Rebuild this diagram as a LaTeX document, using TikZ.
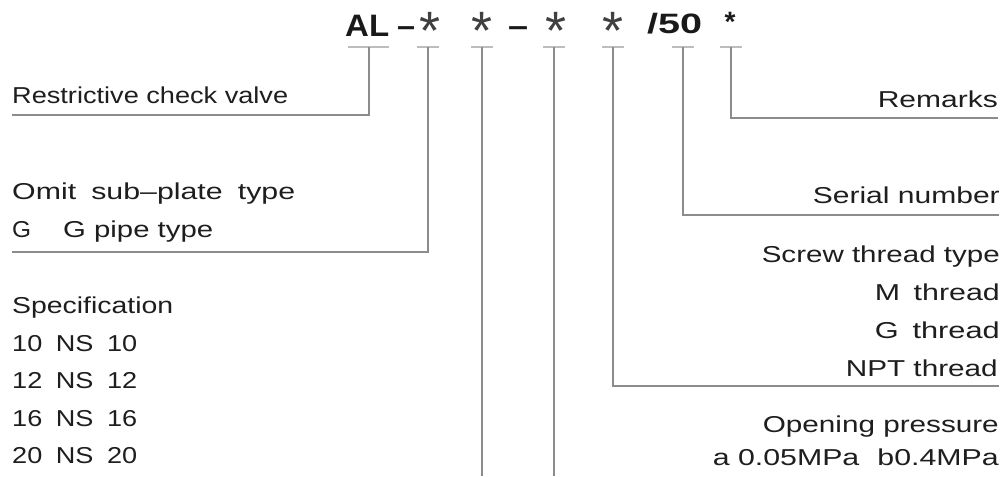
\documentclass[tikz,border=0pt]{standalone}
\usepackage{fontspec}
\setmainfont{Liberation Sans}
\usepackage{graphicx}
\definecolor{txt}{HTML}{1E1E1E}
\definecolor{ln}{HTML}{8C8C8C}
\definecolor{tk}{HTML}{BDBDBD}
\newcommand{\fw}[2]{\resizebox{#1}{\height}{#2}}
\begin{document}
\begin{tikzpicture}[x=1pt,y=-1pt,
  lbl/.style={inner sep=0pt, text=txt, font=\fontsize{23}{26}\selectfont},
  lw/.style={lbl, anchor=base west},
  le/.style={lbl, anchor=base east},
  conn/.style={draw=ln, line width=1.2pt},
  tickmark/.style={draw=tk, line width=1.5pt},
  ttl/.style={inner sep=0pt, text=black!90, font=\fontsize{31}{34}\selectfont\bfseries, anchor=base west},
  star/.style={inner sep=0pt, text=black!75, font=\fontsize{54}{58}\selectfont, anchor=base},
  bstar/.style={inner sep=0pt, text=black!90, font=\fontsize{28}{30}\selectfont\bfseries, anchor=base}]
\useasboundingbox[fill=white] (0,0) rectangle (1008,476);

% title code
\node[ttl] (al) at (345,37) {\fw{44pt}{AL}};
\node[ttl] (d1) at (397,37) {\fw{18pt}{–}};
\node[star] (s1) at (430,50) {*};
\node[star] (s2) at (482,50) {*};
\node[ttl] (d2) at (508,37) {\fw{20pt}{–}};
\node[star] (s3) at (556,50) {*};
\node[star] (s4) at (613,50) {*};
\node[ttl, font=\fontsize{28}{30}\selectfont\bfseries] (n50) at (647,34) {\fw{55pt}{/50}};
\node[bstar] (s5) at (730,32) {*};

% tick coordinates
\coordinate (kAL) at (369,47);
\coordinate (k1) at (428,47);
\coordinate (k2) at (482,47);
\coordinate (k3) at (554,47);
\coordinate (k4) at (613,47);
\coordinate (k5) at (683,47);
\coordinate (k6) at (731,47);
\draw[tickmark] ([xshift=-21pt]kAL) -- ([xshift=20pt]kAL);
\foreach \k in {k1,k2,k3,k4,k5,k6}
  \draw[tickmark] ([xshift=-11pt]\k) -- ([xshift=11pt]\k);

% left labels
\node[lw] (rcv) at (12,103) {\fw{276pt}{Restrictive check valve}};
\node[lw] (omit) at (12,199) {\fw{283pt}{Omit\hspace{0.5em}sub–plate\hspace{0.5em}type}};
\node[lw] (gpipe) at (12,237) {\makebox[51pt][l]{\fw{19pt}{G}}\fw{150pt}{G pipe type}};
\node[lw] (spec) at (12,313) {\fw{161pt}{Specification}};
\node[lw] (n10) at (12,351) {\fw{125pt}{10\hspace{0.5em}NS\hspace{0.5em}10}};
\node[lw] (n12) at (12,388) {\fw{125pt}{12\hspace{0.5em}NS\hspace{0.5em}12}};
\node[lw] (n16) at (12,426) {\fw{125pt}{16\hspace{0.5em}NS\hspace{0.5em}16}};
\node[lw] (n20) at (12,463) {\fw{125pt}{20\hspace{0.5em}NS\hspace{0.5em}20}};

% right labels
\node[le] (rem) at (998,107) {\fw{120pt}{Remarks}};
\node[le] (ser) at (1000,203) {\fw{187pt}{Serial number}};
\node[le] (scr) at (1000,262) {\fw{238pt}{Screw thread type}};
\node[le] (mth) at (1000,300) {\fw{125pt}{M\hspace{0.45em}thread}};
\node[le] (gth) at (1000,338) {\fw{125pt}{G\hspace{0.45em}thread}};
\node[le] (npt) at (998,376) {\fw{152pt}{NPT thread}};
\node[le] (opn) at (999,432) {\fw{236pt}{Opening pressure}};
\node[le] (prs) at (999,465) {\fw{286pt}{a 0.05MPa\hspace{0.6em}b0.4MPa}};

% connector ends
\coordinate (eAL) at (12,115);
\coordinate (e1) at (12,252);
\coordinate (e2) at (482,476);
\coordinate (e3) at (554,476);
\coordinate (e4) at (999,386);
\coordinate (e5) at (999,215);
\coordinate (e6) at (998,118);

\draw[conn] (kAL) |- (eAL);
\draw[conn] (k1) |- (e1);
\draw[conn] (k2) -- (e2);
\draw[conn] (k3) -- (e3);
\draw[conn] (k4) |- (e4);
\draw[conn] (k5) |- (e5);
\draw[conn] (k6) |- (e6);
\end{tikzpicture}
\end{document}
